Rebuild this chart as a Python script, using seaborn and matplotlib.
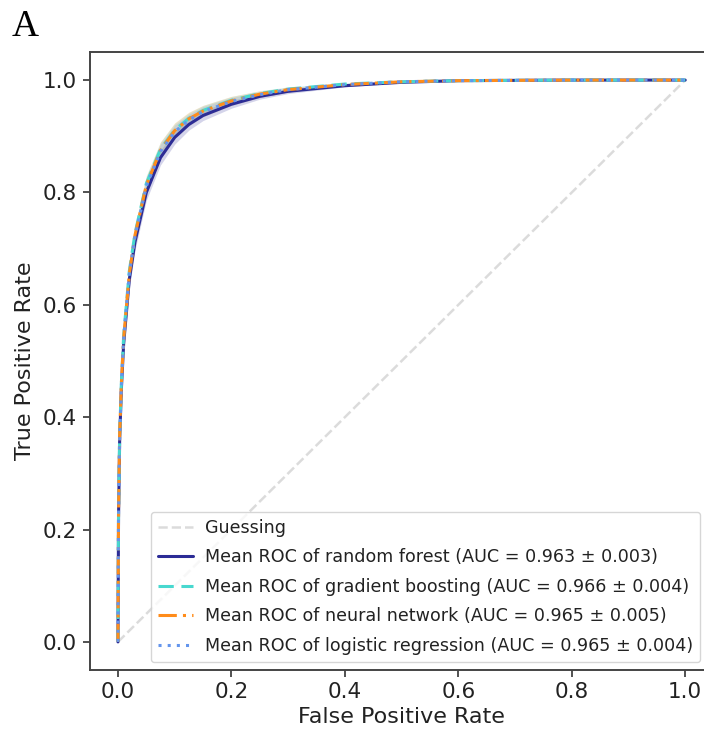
import matplotlib
matplotlib.use("Agg")
import matplotlib.pyplot as plt
import seaborn as sns
import numpy as np
import pandas as pd

sns.set_theme(style="white")
plt.rcParams['font.family'] = ['DejaVu Sans']

# Data
fpr = [0, 0.001, 0.003, 0.006, 0.01, 0.02, 0.03, 0.05, 0.075, 0.1, 0.125, 0.15, 0.2, 0.25, 0.3, 0.4, 0.5, 0.6, 0.8, 1.0]
tpr_rf = [0, 0.22, 0.36, 0.45, 0.53, 0.645, 0.712, 0.800, 0.862, 0.898, 0.921, 0.937, 0.957, 0.971, 0.980, 0.990, 0.996, 0.999, 1.0, 1.0]
tpr_gb = [0, 0.23, 0.37, 0.46, 0.545, 0.66, 0.727, 0.816, 0.877, 0.911, 0.932, 0.946, 0.964, 0.976, 0.984, 0.993, 0.997, 0.999, 1.0, 1.0]
tpr_nn = [0, 0.23, 0.37, 0.46, 0.54, 0.655, 0.724, 0.813, 0.875, 0.910, 0.931, 0.945, 0.963, 0.975, 0.983, 0.992, 0.997, 0.999, 1.0, 1.0]
tpr_lr = [0, 0.23, 0.365, 0.455, 0.54, 0.655, 0.722, 0.811, 0.873, 0.908, 0.929, 0.944, 0.962, 0.974, 0.983, 0.992, 0.997, 0.999, 1.0, 1.0]
std_rf = [0, 0.012, 0.014, 0.015, 0.015, 0.015, 0.015, 0.014, 0.013, 0.012, 0.010, 0.009, 0.007, 0.005, 0.004, 0.002, 0.001, 0.001, 0, 0]
std_gb = [0, 0.012, 0.014, 0.015, 0.015, 0.015, 0.015, 0.014, 0.013, 0.012, 0.010, 0.009, 0.007, 0.005, 0.004, 0.002, 0.001, 0.001, 0, 0]
std_nn = [0, 0.014, 0.016, 0.017, 0.017, 0.017, 0.017, 0.016, 0.015, 0.014, 0.012, 0.010, 0.008, 0.006, 0.004, 0.002, 0.001, 0.001, 0, 0]
std_lr = [0, 0.012, 0.014, 0.015, 0.015, 0.015, 0.015, 0.014, 0.013, 0.012, 0.010, 0.009, 0.007, 0.005, 0.004, 0.002, 0.001, 0.001, 0, 0]

labels = [
    "Mean ROC of random forest (AUC = 0.963 \u00b1 0.003)",
    "Mean ROC of gradient boosting (AUC = 0.966 \u00b1 0.004)",
    "Mean ROC of neural network (AUC = 0.965 \u00b1 0.005)",
    "Mean ROC of logistic regression (AUC = 0.965 \u00b1 0.004)",
]
colors = ["#2c2c96", "#48d8cf", "#ff8c1a", "#6495ed"]
styles = ["-", (0, (5, 2.5)), (0, (6, 2, 1, 2)), (0, (1, 2))]
tprs = [tpr_rf, tpr_gb, tpr_nn, tpr_lr]
stds = [std_rf, std_gb, std_nn, std_lr]

fig = plt.figure(figsize=(7.04, 7.30), dpi=100)
W, H = 704, 730
left_px, right_px = 89.6, 713.6
top_px, bot_px = 52, 670
ax = fig.add_axes([left_px / W, (H - bot_px) / H, (right_px - left_px) / W, (bot_px - top_px) / H])

guess = pd.DataFrame({"x": [0, 1], "y": [0, 1]})
sns.lineplot(data=guess, x="x", y="y", ax=ax, color="lightgray", linestyle="--",
             linewidth=1.8, alpha=0.8, label="Guessing")

f = np.array(fpr)
for t, s, c, ls, lab in zip(tprs, stds, colors, styles, labels):
    t = np.array(t); s = np.array(s)
    ax.fill_between(f, np.clip(t - s, 0, 1), np.clip(t + s, 0, 1), color=c, alpha=0.2, linewidth=0)
    df = pd.DataFrame({"fpr": f, "tpr": t})
    sns.lineplot(data=df, x="fpr", y="tpr", ax=ax, color=c, linestyle=ls, linewidth=2.2, label=lab)

ax.set_xlim(-0.05, 1.05)
ax.set_ylim(-0.05, 1.05)
ax.set_xticks([0, 0.2, 0.4, 0.6, 0.8, 1.0])
ax.set_yticks([0, 0.2, 0.4, 0.6, 0.8, 1.0])
ax.set_xticklabels(["0.0", "0.2", "0.4", "0.6", "0.8", "1.0"])
ax.set_yticklabels(["0.0", "0.2", "0.4", "0.6", "0.8", "1.0"])
ax.tick_params(axis="both", which="both", direction="out", length=5, width=1.2,
               colors="#333333", labelsize=15.5, labelcolor="#222222",
               bottom=True, left=True, pad=4)
ax.set_xlabel("False Positive Rate", fontsize=16, color="#222222", labelpad=3)
ax.set_ylabel("True Positive Rate", fontsize=16, color="#222222", labelpad=6)
for sp in ax.spines.values():
    sp.set_color("#444444")
    sp.set_linewidth(1.4)
ax.spines["right"].set_visible(False)

leg = ax.legend(loc="lower right", bbox_to_anchor=((700 - left_px) / (right_px - left_px), 8 / 618),
                borderaxespad=0, fontsize=12.6, frameon=True, handlelength=2.0,
                labelspacing=0.66, borderpad=0.4, handletextpad=0.7)
leg.get_frame().set_edgecolor("#cccccc")
for text in leg.get_texts():
    text.set_color("#222222")

fig.text(12 / W, 1 - 36 / H, "A", fontsize=27, family="Liberation Serif", color="black")

fig.savefig("out.png", dpi=100)
